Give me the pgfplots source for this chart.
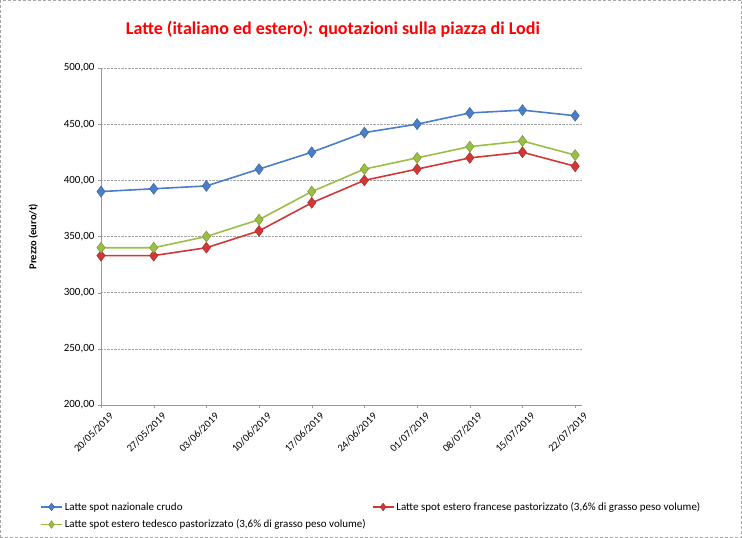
\documentclass[border=0pt]{standalone}
\usepackage{pgfplots}
\pgfplotsset{compat=1.18}
\usepackage{fontspec}
\setmainfont{Carlito}
\definecolor{cblue}{RGB}{74,126,200}
\definecolor{cred}{RGB}{210,55,55}
\definecolor{cgreen}{RGB}{155,190,70}
\begin{document}
\begin{tikzpicture}[x=1pt,y=1pt]
\draw[gray!70, densely dashed, line width=0.6pt] (0.3,0.3) rectangle (741.7,537.7);
\begin{axis}[
  at={(101pt,133pt)}, anchor=south west,
  scale only axis, width=481pt, height=337pt,
  xmin=0, xmax=9.13, ymin=200, ymax=500,
  xtick={0,...,9},
  xticklabels={20/05/2019,27/05/2019,03/06/2019,10/06/2019,17/06/2019,24/06/2019,01/07/2019,08/07/2019,15/07/2019,22/07/2019},
  xticklabel style={rotate=45, anchor=north east, font=\fontsize{10.5}{11}\selectfont, inner sep=1pt, xshift=4pt, yshift=-7pt},
  ytick={200,250,...,500},
  yticklabel style={font=\fontsize{11}{12}\selectfont, /pgf/number format/.cd, fixed, fixed zerofill, precision=2, use comma, 1000 sep={}, assume math mode=true},
  ymajorgrids, grid style={gray!70, densely dotted, line width=0.6pt},
  axis lines*=left, axis line style={gray!80, line width=0.6pt},
  tick align=outside, major tick length=3pt, tick style={gray!80},
  xtick pos=bottom, ytick pos=left,
  title={\textbf{Latte (italiano ed estero): quotazioni sulla piazza di Lodi}},
  title style={at={(axis description cs:0.482,1.098)}, anchor=center, color=red, font=\fontsize{18}{20}\selectfont},
  ylabel={\textbf{Prezzo (euro/t)}},
  ylabel style={at={(axis description cs:-0.141,0.5)}, anchor=center, font=\fontsize{10.5}{12}\selectfont},
  legend columns=2,
  legend cell align=left,
  legend style={at={(axis description cs:-0.133,-0.276)}, anchor=north west, draw=none, fill=none, font=\fontsize{11}{12}\selectfont, row sep=4pt, /tikz/every even column/.append style={column sep=4pt}},
  legend image code/.code={\draw[mark repeat=2, mark phase=2, #1, mark size=3.8pt] plot coordinates {(0pt,0pt) (10.5pt,0pt) (21pt,0pt)};},
  every axis plot/.append style={line width=1.6pt, mark=diamond*, mark size=5.5pt},
]
\addplot[color=cblue, mark options={fill=cblue, draw=cblue!80!black, line width=0.5pt}] coordinates {(0,390) (1,392.5) (2,395) (3,410) (4,425) (5,442.5) (6,450) (7,460) (8,462.5) (9,457.5)};
\addlegendentry{Latte spot nazionale crudo}
\addplot[color=cred, mark options={fill=cred, draw=cred!80!black, line width=0.5pt}] coordinates {(0,333) (1,333) (2,340) (3,355) (4,380) (5,400) (6,410) (7,420) (8,425) (9,412.5)};
\addlegendentry{Latte spot estero francese pastorizzato (3,6\% di grasso peso volume)}
\addplot[color=cgreen, mark options={fill=cgreen, draw=cgreen!80!black, line width=0.5pt}] coordinates {(0,340) (1,340) (2,350) (3,365) (4,390) (5,410) (6,420) (7,430) (8,435) (9,422.5)};
\addlegendentry{Latte spot estero tedesco pastorizzato (3,6\% di grasso peso volume)}
\end{axis}
\end{tikzpicture}
\end{document}
